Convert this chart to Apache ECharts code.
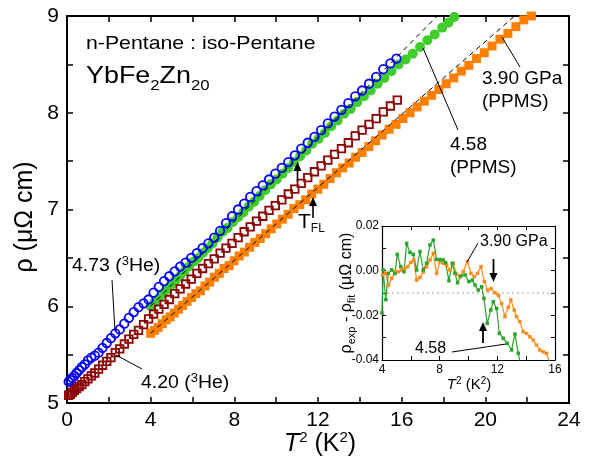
<!DOCTYPE html>
<html><head><meta charset="utf-8">
<script src="https://cdn.jsdelivr.net/npm/echarts@6/dist/echarts.min.js"></script>
<style>html,body{margin:0;padding:0;background:#fff}#c{width:592px;height:464px}</style>
</head><body><div id="c"></div>
<script>
// ---- main panel data (T^2 in K^2, rho in micro-ohm cm) ----
const blueT2 = [0.08,0.16,0.25,0.35,0.46,0.58,0.71,0.85,1.00,1.16,1.33,1.51,1.70,1.90,2.10,2.31,2.52,2.74,2.96,3.19,3.42,3.66,3.90,4.14,4.39,4.64,4.89,5.15,5.41,5.67,5.94,6.21,6.48,6.76,7.04,7.32,7.60,7.89,8.18,8.47,8.76,9.06,9.36,9.66,9.96,10.27,10.58,10.89,11.20,11.51,11.83,12.15,12.47,12.79,13.12,13.45,13.78,14.11,14.44,14.78,15.12,15.46,15.75];
const blueRho = [5.22,5.24,5.26,5.28,5.31,5.34,5.37,5.40,5.44,5.47,5.49,5.52,5.57,5.62,5.67,5.72,5.76,5.82,5.88,5.94,5.99,6.03,6.07,6.14,6.20,6.26,6.31,6.36,6.41,6.45,6.50,6.55,6.60,6.65,6.71,6.78,6.86,6.93,7.00,7.06,7.13,7.19,7.25,7.31,7.37,7.43,7.49,7.56,7.63,7.69,7.75,7.82,7.89,7.96,8.03,8.10,8.17,8.23,8.30,8.37,8.45,8.51,8.56];

const redT2 = [0.08,0.16,0.25,0.35,0.46,0.58,0.71,0.85,1.00,1.16,1.33,1.51,1.70,1.90,2.10,2.31,2.52,2.74,2.96,3.19,3.42,3.66,3.90,4.14,4.39,4.64,4.89,5.15,5.41,5.67,5.94,6.21,6.48,6.76,7.04,7.32,7.60,7.89,8.18,8.47,8.76,9.06,9.36,9.66,9.96,10.27,10.58,10.89,11.20,11.51,11.83,12.15,12.47,12.79,13.12,13.45,13.78,14.11,14.44,14.78,15.12,15.46,15.79];
const redRho = [5.08,5.09,5.11,5.13,5.15,5.17,5.19,5.22,5.25,5.28,5.31,5.35,5.39,5.43,5.47,5.52,5.56,5.61,5.66,5.71,5.75,5.81,5.87,5.92,5.97,6.02,6.07,6.13,6.18,6.23,6.28,6.34,6.39,6.44,6.49,6.55,6.60,6.65,6.71,6.77,6.82,6.88,6.93,6.99,7.04,7.10,7.16,7.21,7.27,7.33,7.39,7.45,7.51,7.57,7.63,7.69,7.76,7.82,7.88,7.94,8.01,8.07,8.13];

const greenT2 = [4.00,4.19,4.38,4.58,4.78,4.98,5.19,5.40,5.61,5.83,6.05,6.27,6.50,6.73,6.96,7.20,7.44,7.68,7.93,8.18,8.43,8.69,8.95,9.21,9.48,9.75,10.02,10.30,10.58,10.86,11.15,11.44,11.73,12.03,12.33,12.63,12.94,13.25,13.56,13.88,14.20,14.52,14.85,15.18,15.51,15.85,16.19,16.53,16.88,17.23,17.58,17.94,18.24,18.52];
const greenRho = [6.00,6.04,6.08,6.13,6.17,6.22,6.27,6.31,6.36,6.41,6.46,6.50,6.55,6.60,6.65,6.71,6.77,6.81,6.87,6.92,6.97,7.03,7.08,7.14,7.20,7.26,7.31,7.37,7.43,7.49,7.55,7.61,7.68,7.73,7.79,7.86,7.92,7.99,8.04,8.11,8.17,8.23,8.30,8.36,8.43,8.50,8.55,8.61,8.68,8.75,8.81,8.88,8.93,8.99];

const orangeT2 = [4.00,4.18,4.36,4.55,4.74,4.93,5.13,5.33,5.53,5.74,5.95,6.16,6.38,6.60,6.82,7.05,7.28,7.51,7.75,7.99,8.23,8.48,8.73,8.98,9.24,9.50,9.76,10.03,10.30,10.57,10.85,11.13,11.41,11.70,11.99,12.28,12.58,12.88,13.18,13.49,13.80,14.11,14.43,14.75,15.07,15.40,15.73,16.06,16.40,16.74,17.08,17.43,17.78,18.13,18.49,18.85,19.21,19.58,19.95,20.32,20.70,21.08,21.46,21.84,22.20];
const orangeRho = [5.72,5.75,5.78,5.82,5.86,5.89,5.93,5.97,6.01,6.05,6.09,6.13,6.16,6.21,6.25,6.30,6.34,6.39,6.42,6.47,6.52,6.56,6.61,6.66,6.70,6.75,6.80,6.85,6.90,6.95,7.01,7.05,7.10,7.16,7.21,7.26,7.32,7.38,7.43,7.48,7.54,7.59,7.65,7.71,7.77,7.83,7.88,7.94,8.00,8.06,8.12,8.18,8.24,8.30,8.36,8.43,8.49,8.56,8.62,8.69,8.76,8.82,8.89,8.96,9.00];

// fit lines (end points)
const greenFitT2 = [4.0, 17.7];
const greenFitRho = [6.00, 9.00];
const orangeFitT2 = [4.0, 21.4];
const orangeFitRho = [5.72, 9.00];

// ---- inset data: rho_exp - rho_fit ----
const insOrangeT2 = [4.05,4.26,4.44,4.67,4.90,5.13,5.36,5.59,5.78,6.00,6.21,6.40,6.63,6.86,7.09,7.33,7.56,7.79,8.02,8.25,8.48,8.71,8.94,9.17,9.40,9.63,9.92,10.17,10.40,10.63,10.87,11.10,11.33,11.56,11.84,12.07,12.30,12.53,12.76,12.94,13.17,13.33,13.56,13.79,14.03,14.26,14.49,14.72,14.95,15.18,15.41,15.60,15.85];
const insOrangeRes = [-0.0019,-0.0012,-0.0065,-0.0034,-0.0005,-0.0005,0.0003,0.0010,0.0018,0.0037,0.0048,-0.0042,-0.0031,-0.0007,0.0018,0.0048,0.0078,-0.0012,0.0040,0.0033,0.0025,0.0003,0.0033,-0.0016,-0.0027,-0.0004,0.0040,-0.0012,-0.0027,-0.0012,0.0018,-0.0049,-0.0087,-0.0080,-0.0099,-0.0110,-0.0147,-0.0206,-0.0164,-0.0131,-0.0176,-0.0206,-0.0228,-0.0273,-0.0281,-0.0296,-0.0311,-0.0333,-0.0355,-0.0363,-0.0370,-0.0408,-0.0450];
const insGreenT2 = [4.00,4.08,4.26,4.44,4.67,4.90,5.06,5.30,5.53,5.71,5.94,6.17,6.40,6.63,6.86,7.09,7.33,7.56,7.79,8.02,8.25,8.41,8.64,8.87,9.06,9.24,9.47,9.76,10.03,10.26,10.45,10.68,10.91,11.07,11.30,11.54,11.72,11.95,12.14,12.41,12.69,12.99,13.22,13.45,13.64];
const insGreenRes = [-0.0190,0.0004,-0.0130,-0.0012,0.0003,-0.0013,0.0073,0.0018,-0.0005,0.0122,0.0082,0.0073,0.0003,0.0086,0.0003,0.0033,0.0115,0.0137,0.0050,0.0050,0.0048,0.0036,-0.0045,0.0033,-0.0012,-0.0054,-0.0024,-0.0019,-0.0049,-0.0042,-0.0064,-0.0087,-0.0072,-0.0124,-0.0236,-0.0176,-0.0139,-0.0169,-0.0280,-0.0303,-0.0325,-0.0355,-0.0284,-0.0370,-0.0430];
const refLineT2 = [4, 16];
const refLineRes = [-0.01, -0.01];

// tick settings
const mainXTicks = {min: 0, max: 24, interval: 4};
const mainYTicks = {min: 5, max: 9, interval: 1};
const insXTicks = {min: 4, max: 16, interval: 4};
const insYTicks = {min: -0.04, max: 0.02, interval: 0.02};

const zip = (a, b) => a.map((v, i) => [v, b[i]]);
const FF = '"Liberation Sans", Arial, Helvetica, sans-serif';

function axis(cfg, opts) {
  return Object.assign({
    type: 'value', min: cfg.min, max: cfg.max, interval: cfg.interval,
    axisLine: {show: true, onZero: false, lineStyle: {color: '#000', width: opts.lw}},
    axisTick: {show: true, inside: true, length: opts.tl, lineStyle: {color: '#000', width: opts.tw}},
    minorTick: {show: true, splitNumber: 2, length: opts.tl, lineStyle: {color: '#000', width: opts.tw}},
    splitLine: {show: false},
    axisLabel: {show: opts.labels, color: '#000', fontSize: opts.fs, fontFamily: FF, margin: opts.margin,
      formatter: opts.fmt},
  }, opts.extra || {});
}

const chart = echarts.init(document.getElementById('c'), null, {renderer: 'canvas'});

function arrow(x, tip, tail, dir, w, h, lw) {
  const base = tip - dir * h;
  return [
    {type: 'line', z: 100, shape: {x1: x, y1: base, x2: x, y2: tail}, style: {stroke: '#000', lineWidth: lw}},
    {type: 'polygon', z: 100, shape: {points: [[x, tip], [x - w / 2, base], [x + w / 2, base]]}, style: {fill: '#000'}}
  ];
}
function seg(x1, y1, x2, y2) {
  return {type: 'line', z: 100, shape: {x1, y1, x2, y2}, style: {stroke: '#000', lineWidth: 1}};
}
function txt(x, y, text, fontSize, rich, extra) {
  const style = {text, fill: '#000', fontFamily: FF, fontSize, align: 'left', verticalAlign: 'middle'};
  if (rich) style.rich = rich;
  return Object.assign({type: 'text', z: 100, x, y, style}, extra || {});
}

const option = {
  animation: false,
  backgroundColor: '#fff',
  grid: [
    {left: 67, right: 23, top: 16, bottom: 61, containLabel: false, outerBoundsMode: 'none'},
    {left: 382, width: 173, top: 226, height: 134, containLabel: false, outerBoundsMode: 'none'}
  ],
  xAxis: [
    axis(mainXTicks, {lw: 2, tw: 1.5, tl: 6, labels: true, fs: 21, margin: 7, extra: {gridIndex: 0, position: 'bottom'}}),
    axis(mainXTicks, {lw: 2, tw: 1.5, tl: 6, labels: false, extra: {gridIndex: 0, position: 'top'}}),
    axis(insXTicks, {lw: 1.2, tw: 1, tl: 4, labels: true, fs: 12, margin: 4, extra: {gridIndex: 1, position: 'bottom'}}),
    axis(insXTicks, {lw: 1.2, tw: 1, tl: 4, labels: false, extra: {gridIndex: 1, position: 'top'}})
  ],
  yAxis: [
    axis(mainYTicks, {lw: 2, tw: 1.5, tl: 6, labels: true, fs: 21, margin: 8, extra: {gridIndex: 0, position: 'left'}}),
    axis(mainYTicks, {lw: 2, tw: 1.5, tl: 6, labels: false, extra: {gridIndex: 0, position: 'right'}}),
    axis(insYTicks, {lw: 1.2, tw: 1, tl: 4, labels: true, fs: 12, margin: 3, fmt: v => v.toFixed(2),
      extra: {gridIndex: 1, position: 'left'}}),
    axis(insYTicks, {lw: 1.2, tw: 1, tl: 4, labels: false, extra: {gridIndex: 1, position: 'right'}})
  ],
  series: [
    {type: 'scatter', name: '4.58 (PPMS)', xAxisIndex: 0, yAxisIndex: 0, data: zip(greenT2, greenRho),
      symbol: 'circle', symbolSize: 10, itemStyle: {color: '#3fcc2c', opacity: 1}},
    {type: 'scatter', name: '3.90 GPa (PPMS)', xAxisIndex: 0, yAxisIndex: 0, data: zip(orangeT2, orangeRho),
      symbol: 'rect', symbolSize: 9, itemStyle: {color: '#ff8000', opacity: 1}},
    {type: 'scatter', name: '4.20 (3He)', xAxisIndex: 0, yAxisIndex: 0, data: zip(redT2, redRho),
      symbol: 'rect', symbolSize: 7.5, itemStyle: {color: 'rgba(0,0,0,0)', borderColor: '#8b0000', borderWidth: 1.8, opacity: 1}},
    {type: 'scatter', name: '4.73 (3He)', xAxisIndex: 0, yAxisIndex: 0, data: zip(blueT2, blueRho),
      symbol: 'circle', symbolSize: 8.5, itemStyle: {color: 'rgba(0,0,0,0)', borderColor: '#0000ff', borderWidth: 1.8, opacity: 1}},
    {type: 'line', xAxisIndex: 0, yAxisIndex: 0, data: zip(greenFitT2, greenFitRho), symbol: 'none',
      lineStyle: {color: '#000', width: 1, type: [5, 4]}, z: 5},
    {type: 'line', xAxisIndex: 0, yAxisIndex: 0, data: zip(orangeFitT2, orangeFitRho), symbol: 'none',
      lineStyle: {color: '#000', width: 1, type: [5, 4]}, z: 5},
    {type: 'line', xAxisIndex: 2, yAxisIndex: 2, data: zip(refLineT2, refLineRes), symbol: 'none',
      lineStyle: {color: '#999', width: 1.2, type: [2, 3]}},
    {type: 'line', xAxisIndex: 2, yAxisIndex: 2, data: zip(insOrangeT2, insOrangeRes), symbol: 'rect', symbolSize: 3.5,
      showAllSymbol: true, lineStyle: {color: '#ff8c1a', width: 1.2}, itemStyle: {color: '#ff8c1a'}},
    {type: 'line', xAxisIndex: 2, yAxisIndex: 2, data: zip(insGreenT2, insGreenRes), symbol: 'rect', symbolSize: 3.5,
      showAllSymbol: true, lineStyle: {color: '#2aa52a', width: 1.2}, itemStyle: {color: '#2aa52a'}}
  ],
  graphic: [
    // axis titles
    {type: 'text', z: 100, x: 25, y: 217, rotation: Math.PI / 2,
      style: {text: 'ρ (μΩ cm)', fill: '#000', fontFamily: FF, fontSize: 25, align: 'center', verticalAlign: 'middle'}},
    {type: 'text', z: 100, x: 320, y: 444,
      style: {text: '{t|T}{s|2}{r| (K}{s|2}{r|)}', fill: '#000', align: 'center', verticalAlign: 'middle',
        rich: {t: {fontSize: 25, fontStyle: 'italic', fontFamily: FF}, r: {fontSize: 25, fontFamily: FF},
          s: {fontSize: 15, fontFamily: FF, padding: [0, 0, 12, 0]}}}},
    // texts
    txt(86, 44, 'n-Pentane : iso-Pentane', 19, null, {scaleX: 1.12}),
    txt(86, 76, '{m|YbFe}{s|2}{m|Zn}{s|20}', 24, {
      m: {fontSize: 24, fontFamily: FF}, s: {fontSize: 15, fontFamily: FF, padding: [20, 0, 0, 0]}}, {scaleX: 1.12}),
    txt(72, 266, '{a|4.73 (}{b|3}{a|He)}', 18, {a: {fontSize: 18, fontFamily: FF}, b: {fontSize: 12, fontFamily: FF, padding: [0, 0, 8, 0]}}, {scaleX: 1.08}),
    txt(141, 383, '{a|4.20 (}{b|3}{a|He)}', 18, {a: {fontSize: 18, fontFamily: FF}, b: {fontSize: 12, fontFamily: FF, padding: [0, 0, 8, 0]}}, {scaleX: 1.08}),
    txt(482, 79, '3.90 GPa', 19),
    txt(482, 102, '(PPMS)', 19),
    txt(450, 145, '4.58', 19),
    txt(450, 168, '(PPMS)', 19),
    txt(298, 222, '{t|T}{s|FL}', 21, {t: {fontSize: 21, fontFamily: FF}, s: {fontSize: 12, fontFamily: FF, padding: [14, 0, 0, 0]}}),
    // inset texts
    {type: 'text', z: 100, x: 347, y: 293, rotation: Math.PI / 2,
      style: {text: '{r|ρ}{s|exp}{r| - ρ}{s|fit}{r| (μΩ cm)}', fill: '#000', align: 'center', verticalAlign: 'middle',
        rich: {r: {fontSize: 16, fontFamily: FF}, s: {fontSize: 11, fontFamily: FF, padding: [10, 0, 0, 0]}}}},
    {type: 'text', z: 100, x: 469, y: 385,
      style: {text: '{t|T}{s|2}{r| (K}{s|2}{r|)}', fill: '#000', align: 'center', verticalAlign: 'middle',
        rich: {t: {fontSize: 15, fontStyle: 'italic', fontFamily: FF}, r: {fontSize: 15, fontFamily: FF},
          s: {fontSize: 10, fontFamily: FF, padding: [0, 0, 8, 0]}}}},
    txt(480, 242, '3.90 GPa', 16),
    txt(415, 349, '4.58', 16),
    // leader lines
    seg(115, 331, 112, 280),
    seg(116, 355, 142, 369),
    seg(502, 37, 520, 67),
    seg(423, 48, 458, 130),
    seg(467, 262, 478, 243),
    seg(452, 352, 506, 344),
    // arrows
    ...arrow(297.5, 162, 181, -1, 8, 9, 1.6),
    ...arrow(313, 197, 218, -1, 8, 9, 1.6),
    ...arrow(493.5, 282, 259, 1, 8, 9, 1.8),
    ...arrow(483, 322, 343, -1, 8, 9, 1.8)
  ]
};
chart.setOption(option);
</script>
</body></html>
